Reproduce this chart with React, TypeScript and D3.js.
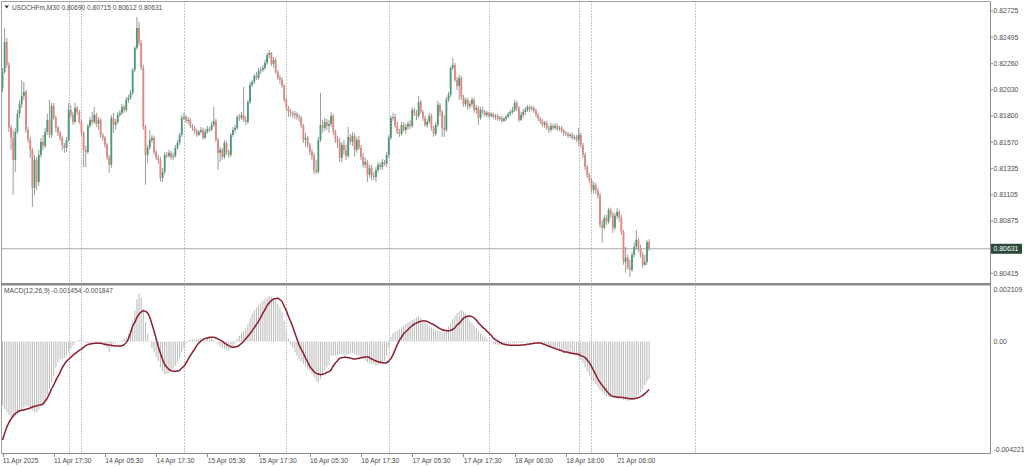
import React from "react";
import * as d3 from "d3";

// Prices are stored as points above 0.8 (price = 0.8 + pts * 1e-5)
const BASE = 0.8;
const PT = 1e-5;
const OPEN0 = 2048;
const closePts = [
2188,2452,2250,1696,1608,1414,1660,1819,1907,1977,
2012,1678,1590,1502,1168,1414,1220,1458,1572,1537,
1660,1766,1634,1889,1784,1696,1652,1608,1546,1520,
1590,1854,1810,1748,1872,1836,1748,1652,1502,1484,
1713,1766,1748,1810,1731,1766,1634,1608,1546,1440,
1370,1784,1722,1748,1810,1828,1880,1854,1942,1960,
2004,2206,2400,2576,2444,2224,1704,1458,1520,1590,
1608,1484,1432,1414,1256,1308,1458,1449,1476,1440,
1449,1520,1564,1634,1784,1792,1757,1766,1713,1696,
1669,1634,1660,1678,1608,1660,1687,1678,1722,1757,
1590,1476,1502,1440,1564,1484,1458,1634,1678,1696,
1792,1784,1810,1766,1748,1924,2074,2100,2153,2136,
2197,2206,2224,2268,2338,2356,2259,2294,2188,2136,
2118,2065,1942,1872,1836,1828,1810,1819,1792,1784,
1713,1590,1608,1546,1484,1449,1326,1308,1590,1722,
1696,1748,1713,1731,1801,1660,1590,1564,1432,1546,
1502,1449,1616,1572,1625,1502,1590,1520,1440,1370,
1396,1282,1344,1273,1264,1326,1370,1352,1396,1379,
1458,1608,1784,1792,1713,1660,1643,1722,1678,1704,
1731,1713,1854,1828,1801,1924,1836,1784,1722,1748,
1801,1696,1643,1722,1898,1836,1696,1678,1942,1986,
2224,2250,2118,2065,2136,1968,1907,1942,1889,1907,
1942,1854,1872,1784,1854,1836,1810,1828,1801,1819,
1792,1801,1775,1784,1757,1775,1792,1819,1836,1854,
1916,1872,1766,1810,1836,1854,1880,1863,1872,1845,
1810,1775,1757,1722,1740,1696,1678,1713,1696,1713,
1687,1696,1669,1652,1643,1625,1634,1608,1616,1590,
1634,1546,1458,1352,1282,1238,1150,1194,1141,1097,
842,816,904,868,974,930,816,921,956,904,
780,516,552,464,446,578,648,710,640,578,
490,516,690,631];
const highPts = [
2224,2576,2488,2276,1722,1678,1696,1854,1942,2118,
2100,2030,1704,1616,1520,1458,1440,1502,1608,1634,
1696,1819,1942,1916,1916,1801,1713,1669,1625,1564,
1616,1916,1898,1836,1916,1889,1854,1766,1669,1537,
1731,1792,1836,1880,1828,1792,1784,1652,1625,1564,
1458,1810,1828,1775,1836,1854,1907,1898,1968,1986,
2030,2224,2417,2672,2628,2470,2250,1722,1546,1678,
1634,1625,1502,1458,1440,1344,1484,1484,1502,1493,
1476,1546,1590,1652,1810,1828,1810,1792,1784,1731,
1713,1687,1678,1704,1696,1687,1713,1704,1748,1880,
1775,1608,1528,1520,1590,1581,1502,1652,1704,1722,
1810,1819,1836,2056,1801,1942,2100,2118,2171,2188,
2224,2232,2250,2294,2356,2382,2364,2320,2312,2206,
2162,2144,2083,1960,1889,1863,1845,1845,1836,1819,
1801,1731,1652,1625,1564,1511,1476,1414,1616,2004,
1766,1784,1775,1766,1836,1819,1678,1625,1608,1572,
1590,1546,1704,1643,1660,1652,1616,1625,1546,1476,
1432,1414,1370,1370,1308,1352,1396,1388,1423,1414,
1484,1634,1801,1828,1819,1748,1687,1748,1748,1731,
1757,1766,1880,1872,1854,1977,1942,1854,1801,1775,
1828,1819,1713,1748,1933,1916,1854,1810,1968,2012,
2241,2312,2268,2144,2162,2153,1986,1960,1960,1933,
1968,1960,1898,1889,1880,1880,1854,1845,1836,1836,
1828,1819,1819,1801,1801,1792,1810,1836,1854,1880,
1942,1933,1889,1836,1863,1880,1898,1898,1889,1889,
1863,1828,1792,1775,1757,1757,1722,1740,1731,1740,
1731,1713,1713,1687,1669,1660,1652,1652,1634,1634,
1696,1652,1564,1476,1370,1300,1256,1220,1212,1168,
1124,886,930,930,992,992,956,948,992,974,
930,798,648,578,534,604,684,798,728,666,
604,578,710,715];
const lowPts = [
2012,2171,2224,1660,1502,1106,1308,1643,1784,1872,
1942,1652,1564,1432,1000,1106,1150,1185,1432,1502,
1520,1634,1608,1608,1766,1660,1625,1581,1502,1476,
1484,1572,1784,1722,1731,1810,1731,1625,1352,1352,
1467,1696,1722,1731,1704,1678,1608,1581,1520,1414,
1300,1344,1652,1678,1731,1792,1810,1828,1836,1916,
1942,1986,2188,2382,2417,2206,1678,1194,1388,1502,
1564,1458,1414,1379,1220,1220,1282,1432,1432,1414,
1414,1432,1502,1546,1616,1766,1740,1731,1696,1669,
1643,1616,1625,1643,1590,1599,1643,1660,1669,1704,
1572,1326,1396,1414,1423,1458,1432,1440,1616,1652,
1678,1757,1766,1748,1722,1731,1907,2056,2083,2118,
2118,2171,2188,2206,2250,2312,2241,2224,2171,2118,
2083,2048,1924,1845,1792,1792,1784,1775,1766,1748,
1696,1564,1528,1520,1458,1414,1291,1291,1291,1572,
1652,1669,1678,1652,1704,1634,1564,1520,1396,1388,
1458,1414,1432,1546,1537,1440,1476,1502,1414,1344,
1344,1220,1256,1238,1238,1220,1300,1326,1326,1361,
1352,1432,1590,1757,1696,1643,1616,1625,1660,1643,
1678,1687,1696,1801,1766,1784,1819,1757,1704,1696,
1731,1669,1616,1625,1704,1801,1616,1616,1660,1924,
1968,2206,2100,2030,1942,1942,1880,1880,1854,1863,
1880,1828,1819,1722,1766,1810,1792,1792,1784,1784,
1775,1766,1757,1757,1740,1748,1757,1784,1801,1819,
1836,1845,1748,1757,1784,1810,1836,1836,1845,1828,
1792,1757,1731,1704,1696,1678,1652,1660,1678,1678,
1669,1669,1652,1625,1625,1608,1608,1590,1590,1572,
1537,1520,1432,1326,1256,1212,1124,1115,1115,1071,
816,684,798,842,851,904,772,798,895,868,
754,490,420,446,384,428,552,622,604,552,
464,481,490,612];

// MACD main (histogram) and signal, in millionths
const macdMicro = [
-2474,-2602,-2731,-2821,-2885,-2949,-2898,-2833,-2769,-2641,
-2538,-2474,-2499,-2564,-2666,-2731,-2743,-2641,-2512,-2409,
-2255,-2050,-1831,-1574,-1317,-996,-803,-687,-675,-636,
-546,-418,-289,-161,-71,-19,58,96,32,-45,
-71,-58,-45,-32,-58,-71,-96,-135,-173,-251,
-418,-225,-96,-45,-19,6,58,96,161,315,
443,803,1189,1638,1857,1703,1253,739,289,-32,
-251,-418,-585,-765,-996,-1150,-1253,-1253,-1201,-1124,
-1034,-932,-803,-636,-418,-225,-71,32,71,84,
84,96,109,122,109,122,135,122,109,58,
-19,-122,-186,-251,-276,-328,-353,-289,-199,-71,
96,212,315,392,508,675,893,1060,1214,1317,
1420,1497,1574,1638,1703,1754,1728,1677,1574,1446,
1317,1124,803,418,96,-122,-251,-418,-546,-675,
-765,-867,-970,-1060,-1150,-1253,-1381,-1510,-1574,-1446,
-1279,-1124,-996,-893,-546,-546,-533,-520,-482,-482,
-508,-508,-482,-456,-443,-482,-508,-546,-610,-675,
-739,-803,-842,-867,-893,-932,-906,-867,-816,-739,
-546,-225,161,315,392,418,469,546,610,675,
739,777,829,880,932,983,906,829,765,675,
598,546,495,443,418,379,353,392,469,572,
700,855,996,1086,1163,1214,1163,1060,932,803,
700,610,520,418,315,251,186,109,32,-19,
-71,-109,-135,-148,-148,-135,-122,-96,-84,-71,
-71,-71,-58,-58,-45,-45,-32,-19,-19,-6,
-19,-45,-71,-109,-148,-173,-199,-225,-251,-276,
-289,-302,-328,-353,-392,-430,-456,-495,-520,-546,
-610,-713,-842,-996,-1150,-1317,-1446,-1536,-1638,-1767,
-1870,-1960,-2050,-2101,-2127,-2152,-2178,-2191,-2204,-2217,
-2217,-2242,-2268,-2281,-2281,-2255,-2217,-2152,-2075,-1960,
-1831,-1677,-1536,-1454];
const signalMicro = [
-3797,-3540,-3309,-3129,-2988,-2859,-2782,-2718,-2666,-2654,
-2641,-2615,-2589,-2564,-2525,-2499,-2474,-2461,-2435,-2409,
-2294,-2178,-2011,-1831,-1677,-1497,-1343,-1189,-1009,-880,
-765,-687,-610,-533,-469,-405,-341,-289,-225,-161,
-122,-96,-84,-71,-71,-71,-71,-84,-109,-122,
-135,-148,-161,-173,-173,-173,-161,-122,-45,109,
328,598,739,932,1060,1137,1189,1163,1099,932,
675,405,109,-199,-456,-687,-880,-996,-1073,-1124,
-1150,-1150,-1137,-1112,-1022,-957,-829,-687,-546,-418,
-302,-161,-58,19,84,122,135,161,161,161,
135,96,58,6,-58,-109,-161,-199,-225,-212,
-186,-148,-71,6,109,199,302,418,533,662,
777,932,1086,1227,1394,1497,1574,1638,1651,1664,
1613,1536,1361,1189,970,777,572,328,96,-129,
-302,-456,-636,-790,-957,-1060,-1163,-1227,-1253,-1279,
-1266,-1240,-1189,-1163,-1086,-944,-829,-739,-649,-623,
-610,-610,-623,-636,-662,-675,-662,-649,-623,-610,
-598,-585,-623,-675,-713,-752,-777,-803,-816,-829,
-816,-752,-662,-508,-315,-122,45,173,302,379,
456,546,610,675,713,752,777,803,790,777,
726,687,649,598,546,495,456,430,418,418,
430,469,533,636,700,803,893,944,970,983,
957,906,829,726,636,546,482,392,315,238,
135,71,19,-32,-71,-109,-122,-135,-148,-148,
-148,-148,-148,-135,-135,-122,-109,-96,-84,-71,
-58,-58,-58,-84,-109,-148,-173,-212,-238,-276,
-302,-328,-353,-392,-405,-418,-443,-456,-469,-482,
-495,-546,-572,-623,-713,-816,-957,-1124,-1279,-1446,
-1574,-1690,-1793,-1895,-1998,-2075,-2114,-2127,-2140,-2152,
-2152,-2165,-2178,-2191,-2204,-2204,-2204,-2191,-2165,-2127,
-2075,-2011,-1934,-1847];

const priceTicks = [0.82725, 0.82495, 0.8226, 0.8203, 0.818, 0.8157, 0.81335, 0.81105, 0.80875, 0.80415];
const priceTickLabels = ["0.82725", "0.82495", "0.82260", "0.82030", "0.81800", "0.81570", "0.81335", "0.81105", "0.80875", "0.80415"];
const currentPrice = 0.80631;
const currentPriceLabel = "0.80631";
const macdTicks = [0.002109, 0, -0.004221];
const macdTickLabels = ["0.002109", "0.00", "-0.004221"];
const timeTickBars = [0, 24, 48, 72, 96, 120, 144, 168, 192, 216, 240, 264, 288];
const timeTickLabels = ["11 Apr 2025", "11 Apr 17:30", "14 Apr 05:30", "14 Apr 17:30", "15 Apr 05:30", "15 Apr 17:30", "16 Apr 05:30", "16 Apr 17:30", "17 Apr 05:30", "17 Apr 17:30", "18 Apr 06:00", "18 Apr 18:00", "21 Apr 06:00"];
const separatorBars = [31, 37, 85, 133, 181, 228, 270, 276, 324.5];
const headerText = "USDCHFm,M30  0.80690 0.80715 0.80612 0.80631";
const macdHeader = "MACD(12,26,9) -0.001454 -0.001847";

const W = 1024, H = 467;
const LEFT = 1.5, RIGHT = 990.5;
const MAIN_TOP = 1.5, MAIN_BOTTOM = 283;
const MACD_TOP = 285.5, MACD_BOTTOM = 453.5;
const FONT = "'Liberation Sans', Arial, sans-serif";
const TXT = "#4d4d4d";

export default function App() {
  const x = d3.scaleLinear().domain([0, 288]).range([2.5, 617.1]);
  const yP = d3.scaleLinear().domain([0.80415, 0.82725]).range([273.3, 11]);
  const yM = d3.scaleLinear().domain([-0.004221, 0.002109]).range([451, 286.8]);
  const px = (v: number) => BASE + v * PT;

  const candles = closePts.map((c, i) => {
    const o = i === 0 ? OPEN0 : closePts[i - 1];
    const hi = Math.max(highPts[i], o, c);
    const lo = Math.min(lowPts[i], o, c);
    const yo = yP(px(o)), yc = yP(px(c));
    const bull = c >= o;
    return { i, x: x(i), yh: yP(px(hi)), yl: yP(px(lo)), top: Math.min(yo, yc), h: Math.max(0.8, Math.abs(yo - yc)), bull };
  });

  const sigLine = d3.line<number>().x((_, i) => x(i)).y((s) => yM(s * 1e-6)).curve(d3.curveMonotoneX);
  const zeroY = yM(0);
  const cpY = yP(currentPrice);

  return (
    <svg width={W} height={H} style={{ position: "absolute", left: 0, top: 0, display: "block", background: "#fff" }} fontFamily={FONT}>
      <rect x={0} y={0} width={W} height={H} fill="#fff" />
      <defs>
        <clipPath id="mainClip"><rect x={LEFT} y={MAIN_TOP} width={RIGHT - LEFT} height={MAIN_BOTTOM - MAIN_TOP} /></clipPath>
        <clipPath id="macdClip"><rect x={LEFT} y={MACD_TOP} width={RIGHT - LEFT} height={MACD_BOTTOM - MACD_TOP} /></clipPath>
      </defs>

      {/* separators */}
      {separatorBars.map((b, k) => (
        <line key={"sep" + k} x1={Math.round(x(b)) + 0.5} x2={Math.round(x(b)) + 0.5} y1={MAIN_TOP} y2={MACD_BOTTOM} stroke="#8c8c8c" strokeWidth={1} strokeDasharray="1,2" />
      ))}

      {/* current price line */}
      <line x1={LEFT} x2={RIGHT} y1={cpY} y2={cpY} stroke="#a8a8a8" strokeWidth={1} />

      {/* candles */}
      <g clipPath="url(#mainClip)">
        {candles.map((c) => (
          <g key={"c" + c.i}>
            <line x1={c.x} x2={c.x} y1={c.yh} y2={c.yl} stroke="#8f8f8f" strokeWidth={0.9} />
            <rect x={c.x - 0.9} y={c.top} width={1.8} height={c.h} fill={c.bull ? "#4c9a73" : "#e2867e"} />
          </g>
        ))}
      </g>

      {/* MACD histogram */}
      <g clipPath="url(#macdClip)">
        {macdMicro.map((m, i) => {
          const y = yM(m * 1e-6);
          return <rect key={"m" + i} x={x(i) - 0.55} y={Math.min(y, zeroY)} width={1.1} height={Math.max(0.5, Math.abs(y - zeroY))} fill="#bfbfbf" />;
        })}
        <path d={sigLine(signalMicro) || ""} fill="none" stroke="#8e1d2d" strokeWidth={1.5} />
      </g>

      {/* frame */}
      <line x1={LEFT} x2={RIGHT} y1={MAIN_TOP} y2={MAIN_TOP} stroke="#a0a0a0" />
      <line x1={LEFT} x2={LEFT} y1={MAIN_TOP} y2={MACD_BOTTOM} stroke="#a0a0a0" />
      <line x1={RIGHT} x2={RIGHT} y1={MAIN_TOP} y2={MACD_BOTTOM} stroke="#8a8a8a" />
      <rect x={1} y={MAIN_BOTTOM} width={RIGHT - 1} height={2.5} fill="#8a8a8a" />
      <line x1={LEFT} x2={RIGHT} y1={MACD_BOTTOM} y2={MACD_BOTTOM} stroke="#8a8a8a" />

      {/* header texts */}
      <path d="M4.5,5.5 L9,5.5 L6.75,8.5 Z" fill="#333" />
      <text x={12} y={9.5} fontSize={6.6} fill={TXT}>{headerText}</text>
      <text x={4} y={293} fontSize={6.6} fill={TXT}>{macdHeader}</text>

      {/* price axis */}
      {priceTicks.map((p, k) => (
        <g key={"pt" + k}>
          <line x1={RIGHT} x2={RIGHT + 2.5} y1={yP(p)} y2={yP(p)} stroke="#8a8a8a" />
          <text x={993.5} y={yP(p) + 2.4} fontSize={6.9} fill={TXT}>{priceTickLabels[k]}</text>
        </g>
      ))}
      <rect x={RIGHT + 0.5} y={cpY - 5} width={31} height={10} fill="#2a4a3b" />
      <text x={993.5} y={cpY + 2.4} fontSize={6.9} fill="#fff">{currentPriceLabel}</text>

      {/* macd axis */}
      {macdTicks.map((v, k) => {
        const yy = Math.max(290, Math.min(450, yM(v)));
        return <text key={"mt" + k} x={993.5} y={yy + 2.4} fontSize={6.9} fill={TXT}>{macdTickLabels[k]}</text>;
      })}

      {/* time axis */}
      {timeTickBars.map((b, k) => (
        <g key={"tt" + k}>
          <line x1={Math.round(x(b)) + 0.5} x2={Math.round(x(b)) + 0.5} y1={MACD_BOTTOM} y2={MACD_BOTTOM + 3.5} stroke="#8a8a8a" />
          <text x={x(b) + 0.3} y={463} fontSize={6.7} fill={TXT}>{timeTickLabels[k]}</text>
        </g>
      ))}
    </svg>
  );
}
